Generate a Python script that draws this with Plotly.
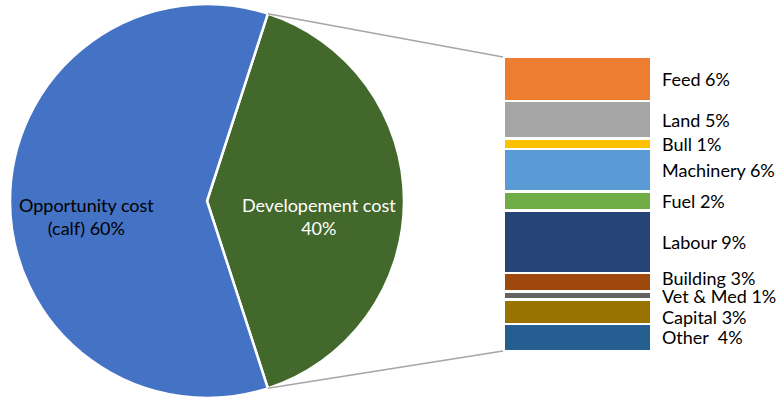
import math
import plotly.graph_objects as go

# ---- data ----
pie_labels = ["Developement cost", "Opportunity cost<br>(calf)"]
pie_values = [40, 60]
pie_colors = ["#43682B", "#4472C4"]
pie_text_colors = ["#FFFFFF", "#000000"]

bar_labels = ["Feed 6%", "Land 5%", "Bull 1%", "Machinery 6%", "Fuel 2%",
              "Labour 9%", "Building 3%", "Vet & Med 1%", "Capital 3%", "Other\u00a0 4%"]
bar_values = [6.0, 5.1, 1.4, 5.8, 2.6, 8.5, 2.5, 1.1, 3.3, 3.7]
bar_colors = ["#ED7D31", "#A5A5A5", "#FFC000", "#5B9BD5", "#70AD47",
              "#264478", "#9E480E", "#636363", "#997300", "#255E91"]

W, H = 779, 398
FONT = "Lato"
FS = 18

# pie geometry (pixels)
cx, cy, r = 207, 201, 197
total = sum(pie_values)
half_span = pie_values[0] / total * 180.0
rotation = 90 - half_span

fig = go.Figure()
fig.add_trace(go.Pie(
    labels=pie_labels, values=pie_values, sort=False, direction="clockwise",
    rotation=rotation,
    marker=dict(colors=pie_colors, line=dict(color="white", width=2.5)),
    textinfo="none", showlegend=False, hoverinfo="label+percent",
    domain=dict(x=[(cx - r) / W, (cx + r) / W], y=[(H - cy - r) / H, (H - cy + r) / H]),
))

# stacked bar (bottom to top)
bar_total = sum(bar_values)
for lab, val, col in reversed(list(zip(bar_labels, bar_values, bar_colors))):
    fig.add_trace(go.Bar(
        x=[0], y=[val], width=1, marker=dict(color=col, line=dict(color="white", width=2.5)),
        name=lab, showlegend=False, hoverinfo="name", xaxis="x", yaxis="y",
    ))

bx0, bx1, by_top, by_bot = 504, 651, 57, 351
fig.update_layout(
    width=W, height=H, margin=dict(l=0, r=0, t=0, b=0),
    paper_bgcolor="white", plot_bgcolor="white",
    barmode="stack",
    xaxis=dict(domain=[bx0 / W, bx1 / W], range=[-0.5, 0.5], visible=False, fixedrange=True),
    yaxis=dict(domain=[(H - by_bot) / H, (H - by_top) / H], range=[0, bar_total], visible=False, fixedrange=True),
    font=dict(family=FONT, size=FS, color="#000000"),
)

annotations = []
# bar labels at segment centres
shifts = {"Building 3%": 4, "Capital 3%": -5}
cum = bar_total
for lab, val in zip(bar_labels, bar_values):
    centre = cum - val / 2
    cum -= val
    annotations.append(dict(
        x=661 / W, xref="paper", y=centre, yref="y", text=lab, showarrow=False,
        xanchor="left", yanchor="middle", yshift=shifts.get(lab, 0), borderpad=0,
        font=dict(family=FONT, size=FS, color="#000000"),
    ))

# pie labels
pie_label_pos = [(319, 216), (86, 216)]
for lab, val, tc, (px, py) in zip(pie_labels, pie_values, pie_text_colors, pie_label_pos):
    txt = f"{lab}<br>{val}%" if "<br>" not in lab else f"{lab} {val}%"
    annotations.append(dict(
        x=px / W, xref="paper", y=1 - py / H, yref="paper", text=txt, showarrow=False,
        xanchor="center", yanchor="middle", align="center",
        font=dict(family=FONT, size=FS, color=tc),
    ))
fig.update_layout(annotations=annotations)

# connector lines from slice edges to the bar
shapes = []
for ang, (tx, ty) in [(rotation, (bx0 - 1, by_top)), (rotation + 2 * half_span, (bx0 - 1, by_bot))]:
    a = math.radians(ang)
    sx, sy = cx + r * math.sin(a), cy - r * math.cos(a)
    shapes.append(dict(
        type="line", xref="paper", yref="paper",
        x0=sx / W, y0=1 - sy / H, x1=tx / W, y1=1 - ty / H,
        line=dict(color="#A6A6A6", width=1.5),
    ))
fig.update_layout(shapes=shapes)

fig.write_html("out.html")
